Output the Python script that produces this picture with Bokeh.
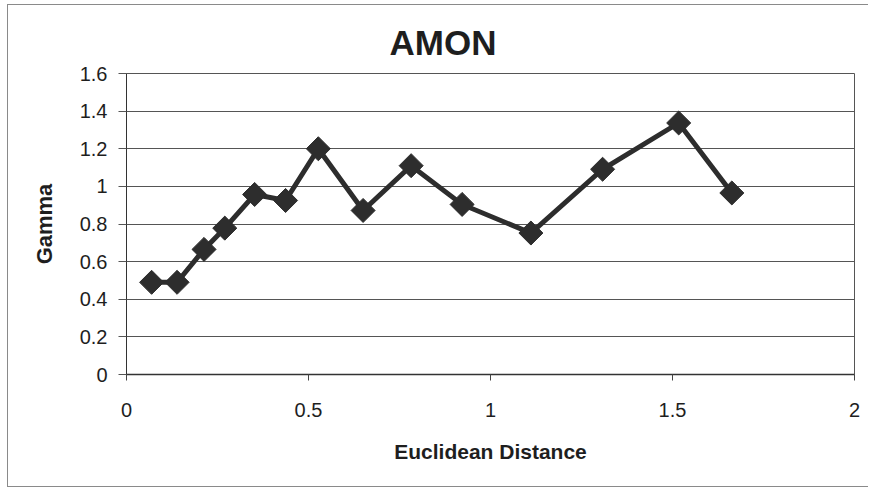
import math
from bokeh.plotting import figure
from bokeh.models import Range1d, FixedTicker
from bokeh.embed import file_html
from bokeh.resources import INLINE

# ---- data ----
distance = [0.069, 0.139, 0.213, 0.270, 0.352, 0.437, 0.527, 0.650,
            0.782, 0.922, 1.111, 1.308, 1.517, 1.663]
gamma = [0.49, 0.49, 0.665, 0.778, 0.957, 0.925, 1.20, 0.872,
         1.11, 0.904, 0.752, 1.091, 1.337, 0.965]

x_ticks = [0, 0.5, 1, 1.5, 2]
x_tick_labels = ["0", "0.5", "1", "1.5", "2"]
y_ticks = [0, 0.2, 0.4, 0.6, 0.8, 1, 1.2, 1.4, 1.6]
y_tick_labels = ["0", "0.2", "0.4", "0.6", "0.8", "1", "1.2", "1.4", "1.6"]

title_text = "AMON"
x_label = "Euclidean Distance"
y_label = "Gamma"

FONT = "Liberation Sans"
DARK = "#2d2d2d"
TEXT = "#1e1e1e"
BORDER = "#8a8a8a"

W, H = 868, 487
p = figure(width=W, height=H, output_backend="svg", toolbar_location=None,
           x_range=Range1d(0, 2), y_range=Range1d(0, 1.6),
           min_border_left=126, min_border_right=W - 854,
           min_border_top=73, min_border_bottom=H - 374)
p.background_fill_color = "white"
p.border_fill_color = None
p.outline_line_color = "#555555"
p.outline_line_width = 1

# outer chart-area border (left, top, bottom edges) drawn behind the transparent canvas
p.styles = {
    "background": (
        f"linear-gradient({BORDER},{BORDER}) 7px 4px / 1px 483px no-repeat, "
        f"linear-gradient({BORDER},{BORDER}) 7px 4px / 880px 1px no-repeat, "
        f"linear-gradient({BORDER},{BORDER}) 7px 486px / 880px 1px no-repeat, "
        "#ffffff"
    )
}

# title
p.title.text = title_text
p.title.align = "left"
p.title.offset = 263
p.title.text_font = FONT
p.title.text_font_style = "bold"
p.title.text_font_size = "35px"
p.title.text_color = TEXT
p.title.standoff = 24

# grid
p.xgrid.visible = False
p.ygrid.ticker = FixedTicker(ticks=y_ticks)
p.ygrid.grid_line_color = "#555555"
p.ygrid.grid_line_width = 1

# x axis
xa = p.xaxis[0]
xa.ticker = FixedTicker(ticks=x_ticks)
xa.major_label_overrides = {t: l for t, l in zip(x_ticks, x_tick_labels)}
xa.minor_tick_line_color = None
xa.major_tick_in = 0
xa.major_tick_out = 6
xa.major_tick_line_color = "#444444"
xa.axis_line_color = "#333333"
xa.axis_line_width = 1.5
xa.major_label_text_font = FONT
xa.major_label_text_font_size = "20px"
xa.major_label_text_color = TEXT
xa.major_label_standoff = 22
xa.axis_label = x_label
xa.axis_label_text_font = FONT
xa.axis_label_text_font_style = "bold"
xa.axis_label_text_font_size = "21px"
xa.axis_label_text_color = TEXT
xa.axis_label_standoff = 20

# y axis
ya = p.yaxis[0]
ya.ticker = FixedTicker(ticks=y_ticks)
ya.major_label_overrides = {t: l for t, l in zip(y_ticks, y_tick_labels)}
ya.minor_tick_line_color = None
ya.major_tick_in = 0
ya.major_tick_out = 8
ya.major_tick_line_color = "#555555"
ya.axis_line_color = "#333333"
ya.major_label_text_font = FONT
ya.major_label_text_font_size = "20px"
ya.major_label_text_color = TEXT
ya.major_label_standoff = 11
ya.axis_label = y_label
ya.axis_label_text_font = FONT
ya.axis_label_text_font_style = "bold"
ya.axis_label_text_font_size = "22px"
ya.axis_label_text_color = TEXT
ya.axis_label_standoff = 20

# series
p.line(distance, gamma, line_width=5, line_color=DARK, line_join="miter")
p.scatter(distance, gamma, marker="square", size=17, angle=math.pi / 4,
          fill_color=DARK, line_color=DARK)

open("out.html", "w").write(file_html(p, INLINE))
